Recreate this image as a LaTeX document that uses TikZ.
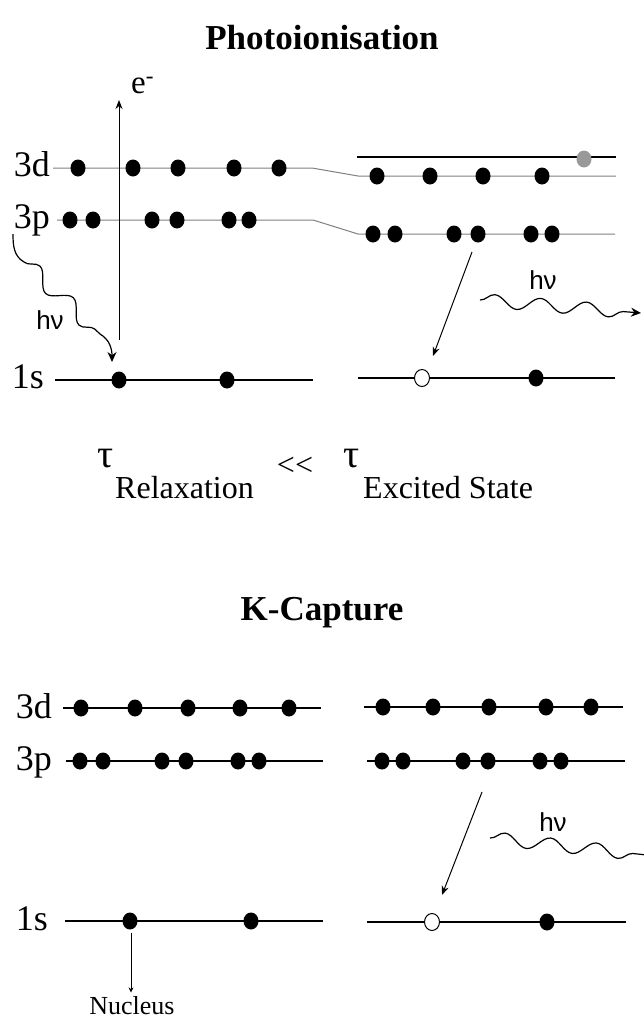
\documentclass[tikz,border=0pt]{standalone}
\usepackage{fontspec}
\setmainfont{Liberation Serif}
\newfontfamily\sansf{Liberation Sans}
\usetikzlibrary{arrows.meta,decorations.pathmorphing,positioning}

\tikzset{
  lvl/.style={black,line width=1.5pt},
  lvlgrey/.style={black!50,line width=1pt},
  lbl/.style={font=\fontsize{36}{38}\selectfont,anchor=base east,inner sep=0pt},
  photon/.style={line width=1.2pt,-{Stealth[length=10pt,width=9pt]},decorate,
    decoration={snake,segment length=46pt,amplitude=6.5pt,post length=8pt}},
  trans/.style={line width=1pt,-{Stealth[length=9pt,width=7pt]}},
  hnu/.style={font=\sansf\fontsize{26}{28}\selectfont},
}

\begin{document}
\begin{tikzpicture}[x=1pt,y=-1pt]
    \useasboundingbox (0,0) rectangle (644,1021);
    % titles
    \node [font=\bfseries\fontsize{35}{40}\selectfont] (title1) at (322,38) {Photoionisation};
    \node [font=\bfseries\fontsize{35}{40}\selectfont] (title2) at (322,613) {K-Capture};

    % ---- photoionisation, ground state (left)
    \node [lbl] (l3d) at (50,176) {3d};
    \node [lbl] (l3p) at (50,228) {3p};
    \node [lbl] (l1s) at (44,388) {1s};
    \draw [lvlgrey] (53,168) -- (312,168) -- (358,176) -- (616,176);
    \draw [lvlgrey] (57,220) -- (313,220) -- (358,234) -- (615,234);
    \draw [lvl] (357,157) -- (616,157);
    \draw [lvl] (55,380) -- (313,380);
    \draw [lvl] (358,378) -- (615,378);
    \foreach \x in {78,133,178,234,279} \fill (\x,168) ellipse [x radius=7.5pt,y radius=8.5pt];
    \foreach \x in {70,93,152,177,229,249} \fill (\x,220) ellipse [x radius=7.5pt,y radius=8.5pt];
    \foreach \x in {119,227} \fill (\x,380) ellipse [x radius=7.5pt,y radius=8.5pt];
    % excited state (right)
    \foreach \x in {377,430,483,542} \fill (\x,176) ellipse [x radius=7.5pt,y radius=8.5pt];
    \fill [black!40] (584,159) ellipse [x radius=7.5pt,y radius=8.5pt];
    \foreach \x in {373,395,454,478,531,552} \fill (\x,234) ellipse [x radius=7.5pt,y radius=8.5pt];
    \fill (536,378) ellipse [x radius=7.5pt,y radius=8.5pt];
    \draw [line width=1pt,fill=white] (422,378) ellipse [x radius=7.5pt,y radius=8.5pt];

    % ejected electron and photons
    \coordinate (ebot) at (119,340);
    \coordinate (etop) at (119,100);
    \draw [trans] (ebot) -- (etop);
    \node [font=\fontsize{33}{34}\selectfont,anchor=base west,inner sep=0pt] (eminus) at (131,93) {e\textsuperscript{-}};
    \draw [line width=1.2pt,-{Stealth[length=10pt,width=9pt]}] (13,234) to [out=-90,in=150] (24,262)
      decorate [decoration={snake,segment length=46pt,amplitude=8pt}] { -- (100,334) }
      to [out=-30,in=90] (112,362);
    \node [hnu] (hnu1) at (50,320) {hν};
    \draw [trans] (472,252) -- (433,356);
    \draw [photon] (480,300) -- (641,313);
    \node [hnu] (hnu2) at (543,280) {hν};

    % lifetimes
    \node [font=\fontsize{40}{42}\selectfont,anchor=base] (tau1) at (106,467) {τ};
    \node [font=\fontsize{32}{36}\selectfont,anchor=base west,inner sep=0pt] (relax) at (115,498) {Relaxation};
    \node [font=\fontsize{32}{34}\selectfont] (ll) at (295,466) {{<}{<}};
    \node [font=\fontsize{40}{42}\selectfont,anchor=base] (tau2) at (352,467) {τ};
    \node [font=\fontsize{32}{36}\selectfont,anchor=base west,inner sep=0pt] (excit) at (363,498) {Excited State};

    % ---- K-capture
    \node [lbl] (k3d) at (52,718) {3d};
    \node [lbl] (k3p) at (52,770) {3p};
    \node [lbl] (k1s) at (48,930) {1s};
    \draw [lvl] (63,708) -- (321,708);
    \draw [lvl] (66,761) -- (323,761);
    \draw [lvl] (65,921) -- (323,921);
    \draw [lvl] (364,707) -- (623,707);
    \draw [lvl] (367,761) -- (625,761);
    \draw [lvl] (367,922) -- (626,922);
    \foreach \x in {81,135,188,240,289} \fill (\x,708) ellipse [x radius=7.5pt,y radius=8.5pt];
    \foreach \x in {80,103,162,186,238,259} \fill (\x,761) ellipse [x radius=7.5pt,y radius=8.5pt];
    \foreach \x in {130,251} \fill (\x,921) ellipse [x radius=7.5pt,y radius=8.5pt];
    \foreach \x in {383,433,489,546,591} \fill (\x,707) ellipse [x radius=7.5pt,y radius=8.5pt];
    \foreach \x in {382,403,463,488,540,561} \fill (\x,761) ellipse [x radius=7.5pt,y radius=8.5pt];
    \fill (547,922) ellipse [x radius=7.5pt,y radius=8.5pt];
    \draw [line width=1pt,fill=white] (432,922) ellipse [x radius=7.5pt,y radius=8.5pt];
    \coordinate (ktop) at (482,792);
    \coordinate (khole) at (442,895);
    \draw [trans] (ktop) -- (khole);
    \draw [photon] (490,838) -- (656,856);
    \node [hnu] (hnu3) at (553,822) {hν};
    \node [font=\fontsize{26}{28}\selectfont,anchor=base] (nucleus) at (132,1014) {Nucleus};
    \coordinate (kdot) at (131,933);
    \draw [line width=0.8pt,-{Stealth[length=5pt,width=5pt]}] (kdot) -- (nucleus.north -| kdot);
\end{tikzpicture}
\end{document}
